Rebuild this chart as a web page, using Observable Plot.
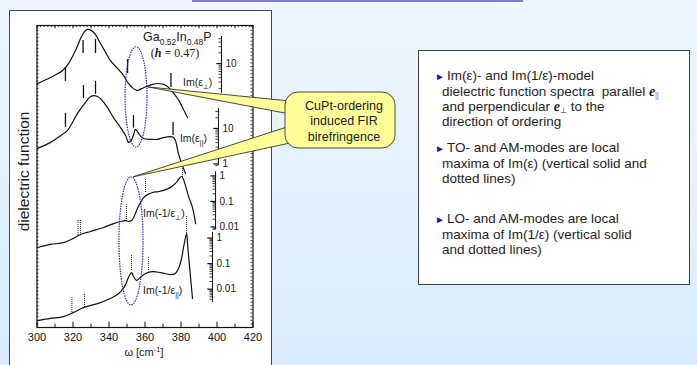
<!DOCTYPE html>
<html><head><meta charset="utf-8">
<script src="https://cdn.jsdelivr.net/npm/d3@7"></script>
<script src="https://cdn.jsdelivr.net/npm/@observablehq/plot@0.6"></script>
<style>
html,body{margin:0;padding:0;}
body{width:697px;height:365px;overflow:hidden;position:relative;background:linear-gradient(to bottom,#eff6fe 0%,#e4f1fc 50%,#d8eafb 100%);font-family:"Liberation Sans",Arial,sans-serif;}
#topbar{position:absolute;left:192px;top:0;width:331px;height:2px;background:#7d7dcf;}
#chartbox{position:absolute;left:9px;top:10px;width:261px;height:370px;background:#fff;border:1px solid #4a4a4a;}
#wrap{position:absolute;left:0;top:0;}
#notes{position:absolute;left:418px;top:50px;width:272px;height:235px;background:#fff;border:1px solid #444;box-sizing:border-box;font-size:13.5px;line-height:15px;color:#1e1e1e;}
#notes p{position:absolute;left:23px;margin:0;white-space:nowrap;line-height:15px;}
.tri{color:#1c1c8e;font-size:10px;margin-left:-7px;margin-right:2px;}
.ev{font-family:"Liberation Serif",serif;font-weight:bold;font-style:italic;font-size:14px;line-height:0;}
.ev sub{font-size:8px;font-weight:normal;font-style:normal;vertical-align:-2px;line-height:0;}
</style></head>
<body>
<div id="topbar"></div>
<div id="chartbox"></div>
<div id="wrap"></div>
<div id="notes">
<p style="top:16.5px"><span class="tri">&#9658;</span>Im(&#949;)- and Im(1/&#949;)-model<br>dielectric function spectra&nbsp; parallel <span class="ev">e<sub>||</sub></span><br>and perpendicular <span class="ev">e<sub>&#8869;</sub></span> to the<br>direction of ordering</p>
<p style="top:88.5px"><span class="tri">&#9658;</span>TO- and AM-modes are local<br>maxima of Im(&#949;) (vertical solid and<br>dotted lines)</p>
<p style="top:159.5px"><span class="tri">&#9658;</span>LO- and AM-modes are local<br>maxima of Im(1/&#949;) (vertical solid<br>and dotted lines)</p>
</div>
<script>
// ---- data: [omega (cm^-1), stacked display value (arb. units)] ----
const xTicks = [300, 320, 340, 360, 380, 400, 420];
const xMinor = [310, 330, 350, 370, 390, 410];

const imEpsPerp = [[300.3,80.8],[307.5,82.8],[314.2,85.1],[317.5,87.4],[321.4,91.7],[324.2,95.7],[326.4,98.0],[328.1,98.7],[330.3,98.3],[332.5,97.0],[335.3,94.0],[338.1,91.1],[340.8,88.4],[344.7,85.8],[348.1,83.4],[350.8,80.8],[353.6,79.1],[355.8,78.5],[358.1,79.1],[360.8,79.8],[364.2,80.5],[367.5,80.8],[370.3,80.5],[372.5,79.8],[374.7,78.5],[376.9,76.8],[379.2,74.8],[381.4,72.2],[383.6,69.5]];
const imEpsPar = [[300.3,59.3],[307.5,61.3],[314.7,64.2],[316.9,65.2],[319.7,67.9],[322.5,70.9],[324.7,72.8],[326.9,74.5],[329.2,76.2],[331.4,76.8],[333.6,76.5],[335.3,75.8],[337.5,74.2],[339.2,72.8],[342.5,69.5],[346.4,66.2],[349.2,63.6],[350.8,61.3],[351.9,61.6],[353.1,62.9],[354.2,64.9],[354.7,65.6],[355.8,64.9],[356.9,63.9],[359.2,62.6],[363.1,62.3],[367.0,62.3],[370.3,62.9],[374.2,63.2],[375.8,62.9],[376.9,61.9],[378.6,57.6],[380.8,53.6],[382.5,51.0]];
const imInvPerp = [[300.3,26.5],[307.5,27.5],[314.7,28.1],[320.3,29.5],[324.2,30.8],[329.7,31.8],[337.0,33.1],[342.5,34.4],[346.4,35.1],[349.2,35.4],[350.8,35.1],[352.5,35.4],[354.2,37.1],[355.8,39.4],[357.5,41.4],[359.2,43.0],[361.4,44.0],[364.2,44.7],[367.5,45.0],[370.3,45.4],[374.2,46.4],[376.9,47.7],[378.6,49.0],[380.3,50.0],[381.4,49.0],[382.5,47.0],[384.2,43.4],[386.4,39.7],[388.1,34.4]];
const imInvPar = [[300.3,2.3],[307.5,3.0],[314.7,3.6],[320.3,5.0],[325.8,6.6],[333.6,7.9],[340.8,9.6],[344.7,10.9],[347.5,12.6],[349.2,14.2],[350.8,16.6],[352.5,18.2],[353.6,16.9],[355.3,15.6],[357.5,16.6],[360.3,17.9],[364.2,18.5],[368.6,18.2],[374.2,17.5],[376.9,17.9],[378.6,19.5],[380.3,22.8],[381.4,26.5],[383.1,31.1],[383.6,27.8],[384.7,20.5],[386.4,9.6]];

// mode markers: [omega, from, to]
const toPerp = [[315.8,81.5,86.1],[325.6,90.7,95.0],[332.5,90.7,95.4],[350.3,84.1,88.7],[374.4,79.5,84.1]];
const toPar  = [[315.8,66.2,70.9],[325.8,75.8,80.1],[332.5,77.2,81.5],[353.6,66.0,70.2],[375.6,63.6,67.9]];
const loPerp = [[322.8,30.5,35.8],[324.2,30.5,35.8],[349.7,35.8,40.7],[360.3,44.7,49.3],[380.8,49.7,53.0]];
const loPar  = [[319.4,5.0,9.9],[326.4,6.6,11.3],[352.5,18.9,23.8],[361.9,18.9,23.5],[383.1,31.1,37.1]];

// inner log axes: tick label values
const perpLabels = [10];
const parLabels = [1, 10];
const invPerpLabels = [0.01, 0.1, 1];
const invParLabels = [0.01, 0.1, 1];

// ---- layout of the inner log axes ----
const logAxes = [
  {w:402.5, u1:75.65, dec:11.75, lo:77.5, hi:96.4, labels:perpLabels},
  {w:400.8, u1:54.15, dec:11.75, lo:53.6, hi:72.5, labels:parLabels},
  {w:399.2, u1:50.2, dec:8.45, lo:32.3, hi:51.6, labels:invPerpLabels},
  {w:397.5, u1:29.6, dec:8.45, lo:8.3,  hi:31.5, labels:invParLabels}
];
const logTicks = [], logText = [];
for (const a of logAxes) {
  for (let k = -4; k <= 2; k++) for (let m = 1; m <= 9; m++) {
    const v = m * Math.pow(10, k);
    const u = a.u1 + a.dec * Math.log10(v);
    if (u >= a.lo - 0.01 && u <= a.hi + 0.01) logTicks.push({w:a.w, u, major:m===1});
  }
  for (const v of a.labels) logText.push({w:a.w, u:a.u1 + a.dec*Math.log10(v), v});
}

const rows = arr => arr.map(([w, y]) => ({w, y}));
const segs = arr => arr.map(([w, y1, y2]) => ({w, y1, y2}));
const ink = "#111";

const plot = Plot.plot({
  width: 697, height: 365,
  marginLeft: 36.5, marginRight: 444.5, marginTop: 25, marginBottom: 38,
  x: {domain: [300, 420]},
  y: {domain: [0, 100], axis: null},
  style: {background: "transparent", fontFamily: "Liberation Sans, Arial, sans-serif", fontSize: "11px", color: ink, overflow: "visible"},
  marks: [
    Plot.frame({stroke: ink, strokeWidth: 1.2}),
    Plot.axisX({ticks: xTicks, tickSize: 0, tickPadding: 6, fontSize: 11, label: null, tickFormat: d => String(d)}),
    Plot.ruleX(xTicks, {x: d => d, y1: 0, y2: 1.8, stroke: ink}),
    Plot.ruleX(xMinor, {x: d => d, y1: 0, y2: 1.1, stroke: ink}),
    Plot.ruleX(d3.range(302, 420, 2), {x: d => d, y1: 99.3, y2: 100, stroke: ink, strokeWidth: 0.8}),
    Plot.ruleX(xMinor.concat(xTicks), {x: d => d, y1: 98.8, y2: 100, stroke: ink, strokeWidth: 0.8}),
    Plot.ruleY(d3.range(1.2, 100, 1.2), {y: d => d, x1: 300, x2: 301.1, stroke: ink, strokeWidth: 0.8}),
    Plot.ruleY(d3.range(1.2, 100, 1.2), {y: d => d, x1: 418.9, x2: 420, stroke: ink, strokeWidth: 0.8}),
    // inner log axes
    Plot.ruleX(logAxes, {x: "w", y1: "lo", y2: "hi", stroke: ink, strokeWidth: 1}),
    Plot.ruleY(logTicks, {y: "u", x1: d => d.w - (d.major ? 2.6 : 1.4), x2: d => d.w + (d.major ? 0.6 : 0), stroke: ink, strokeWidth: d => d.major ? 1.2 : 0.8}),
    Plot.text(logText, {x: "w", y: "u", text: d => String(d.v), dx: 4, textAnchor: "start", fontSize: 10, fill: "#222"}),
    // spectra
    Plot.line(rows(imEpsPerp), {x: "w", y: "y", stroke: ink, strokeWidth: 1.2, curve: "catmull-rom"}),
    Plot.line(rows(imEpsPar), {x: "w", y: "y", stroke: ink, strokeWidth: 1.2, curve: "catmull-rom"}),
    Plot.line(rows(imInvPerp), {x: "w", y: "y", stroke: ink, strokeWidth: 1.2, curve: "catmull-rom"}),
    Plot.line(rows(imInvPar), {x: "w", y: "y", stroke: ink, strokeWidth: 1.2, curve: "catmull-rom"}),
    // mode markers
    Plot.ruleX(segs(toPerp), {x: "w", y1: "y1", y2: "y2", stroke: ink, strokeWidth: 1.3}),
    Plot.ruleX(segs(toPar), {x: "w", y1: "y1", y2: "y2", stroke: ink, strokeWidth: 1.3}),
    Plot.ruleX(segs(loPerp), {x: "w", y1: "y1", y2: "y2", stroke: ink, strokeWidth: 1, strokeDasharray: "1,1"}),
    Plot.ruleX(segs(loPar), {x: "w", y1: "y1", y2: "y2", stroke: ink, strokeWidth: 1, strokeDasharray: "1,1"})
  ]
});
document.getElementById("wrap").append(plot);

// ---- annotations placed through the plot's scales ----
const sx = plot.scale("x"), sy = plot.scale("y");
const X = v => sx.apply(v), Y = v => sy.apply(v);
const svg = d3.select(plot);
const g = svg.append("g");

function rich(x, y, parts, size, anchor, family) {
  const t = g.append("text").attr("x", x).attr("y", y).attr("font-size", size)
    .attr("text-anchor", anchor || "start").attr("fill", "#1a1a1a")
    .attr("font-family", family || "Liberation Sans, Arial, sans-serif");
  for (const p of parts) {
    const s = t.append("tspan").text(p.t);
    if (p.sub) s.attr("font-size", size * 0.68).attr("dy", size * 0.28);
    if (p.sup) s.attr("font-size", size * 0.68).attr("dy", -size * 0.4);
    if (p.back) s.attr("dy", p.back);
    if (p.bi) s.attr("font-weight", "bold").attr("font-style", "italic");
  }
  return t;
}
rich(X(359.2), Y(94.7), [{t:"Ga"},{t:"0.52",sub:1},{t:"In",back:-3.4},{t:"0.48",sub:1},{t:"P",back:-3.4}], 12.5);
rich(X(376.9), Y(89.4), [{t:"("},{t:"h",bi:1},{t:" = 0.47)"}], 12, "middle", "Liberation Serif, serif");
rich(X(381.4), Y(79.8), [{t:"Im(ε"},{t:"⊥",sub:1},{t:")",back:-2.8}], 10.5);
rich(X(379.7), Y(61.3), [{t:"Im(ε"},{t:"||",sub:1},{t:")",back:-2.8}], 10.5);
rich(X(359.2), Y(36.4), [{t:"Im(-1/ε"},{t:"⊥",sub:1},{t:")",back:-2.8}], 10.5);
rich(X(359.2), Y(10.9), [{t:"Im(-1/ε"},{t:"||",sub:1},{t:")",back:-2.8}], 10.5);
rich(X(359.7), 356, [{t:"ω [cm"},{t:"-1",sup:1},{t:"]",back:4.4}], 11, "middle");
g.append("text").attr("transform", `translate(29,${Y(51.5)}) rotate(-90)`).attr("text-anchor", "middle")
  .attr("font-size", 15.5).attr("fill", "#1a1a1a").attr("font-family", "Liberation Sans, Arial, sans-serif").text("dielectric function");

// ellipses
const ell = [[355.3, 76.2, 6.1, 16.6], [352.5, 28.5, 6.7, 21.2]];
for (const [cx, cy, rx, ry] of ell) {
  g.append("ellipse").attr("cx", X(cx)).attr("cy", Y(cy))
    .attr("rx", X(cx + rx) - X(cx)).attr("ry", Y(cy) - Y(cy + ry))
    .attr("fill", "none").attr("stroke", "#2b2bc4").attr("stroke-width", 1.2).attr("stroke-dasharray", "1.5,1");
}
// callout
const tips = [[361.9, 79.5, 101, 114], [353.6, 49.7, 126, 143]];
for (const [w, u, b1, b2] of tips) {
  g.append("polygon").attr("points", `${X(w)},${Y(u)} 290,${b1} 290,${b2}`)
    .attr("fill", "#ffff99").attr("stroke", "#333").attr("stroke-width", 0.9);
}
g.append("rect").attr("x", 285).attr("y", 92).attr("width", 110).attr("height", 56).attr("rx", 13)
  .attr("fill", "#ffff99").attr("stroke", "#333").attr("stroke-width", 0.9);
["CuPt-ordering", "induced FIR", "birefringence"].forEach((s, i) => {
  g.append("text").attr("x", 344).attr("y", 109.5 + i * 15.7).attr("text-anchor", "middle")
    .attr("font-size", 12.5).attr("fill", "#1a1a1a").attr("font-family", "Liberation Sans, Arial, sans-serif").text(s);
});
</script>
</body></html>
